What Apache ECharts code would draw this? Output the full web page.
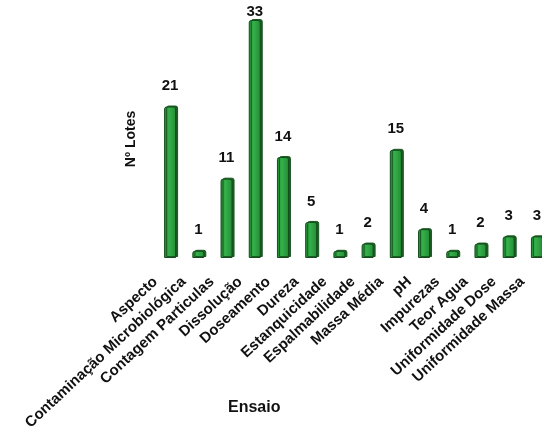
<!DOCTYPE html>
<html>
<head>
<meta charset="utf-8">
<script src="https://cdn.jsdelivr.net/npm/echarts@6/dist/echarts.min.js"></script>
<style>
  html, body { margin: 0; padding: 0; background: #ffffff; overflow: hidden; }
  /* the plot is wider than the window; the right end is cut off */
  #chart { width: 560px; height: 444px; }
</style>
</head>
<body>
<div id="chart"></div>
<script>
// Number of batches per test (ensaio)
var categories = [
  'Aspecto', 'Contaminação Microbiológica', 'Contagem Particulas', 'Dissolução',
  'Doseamento', 'Dureza', 'Estanquicidade', 'Espalmabilidade', 'Massa Média',
  'pH', 'Impurezas', 'Teor Agua', 'Uniformidade Dose', 'Uniformidade Massa'
];
var lotes = [21, 1, 11, 33, 14, 5, 1, 2, 15, 4, 1, 2, 3, 3];

var chart = echarts.init(document.getElementById('chart'), null, { renderer: 'canvas' });

var textFont = '"Liberation Sans", Arial, sans-serif';

// the tallest bar touches the top edge, so its value label sits closer
var maxLotes = Math.max.apply(null, lotes);
var barData = lotes.map(function (v) {
  return v === maxLotes ? { value: v, label: { distance: 1 } } : v;
});

chart.setOption({
  animation: false,
  backgroundColor: '#ffffff',
  grid: { left: 156, top: 20, right: 9, height: 238, containLabel: false },
  xAxis: {
    type: 'category',
    data: categories,
    axisLine: { show: false },
    axisTick: { show: false },
    axisLabel: {
      interval: 0,
      rotate: 43,
      margin: 8,
      color: '#111111',
      fontFamily: textFont,
      fontWeight: 'bold',
      fontSize: 15,
      // trailing spacer pushes each label down-left of its bar
      formatter: function (v) { return '{t|' + v + '}{s|}'; },
      rich: {
        t: {
          color: '#111111',
          fontFamily: textFont,
          fontWeight: 'bold',
          fontSize: 15
        },
        s: { width: 20 }
      }
    }
  },
  yAxis: {
    type: 'value',
    min: 0,
    max: 33,
    splitLine: { show: false },
    axisLine: { show: false },
    axisTick: { show: false },
    axisLabel: { show: false },
    name: 'Nº Lotes',
    nameLocation: 'middle',
    nameGap: 18,
    nameTextStyle: {
      color: '#111111',
      fontFamily: textFont,
      fontWeight: 'bold',
      fontSize: 14
    }
  },
  graphic: [{
    type: 'text',
    left: 228,
    top: 400,
    style: {
      text: 'Ensaio',
      fill: '#111111',
      font: 'bold 16px ' + textFont
    }
  }],
  series: [{
    type: 'bar',
    data: barData,
    barWidth: 12,
    itemStyle: {
      color: new echarts.graphic.LinearGradient(0, 0, 1, 0, [
        { offset: 0, color: '#1f8a32' },
        { offset: 0.4, color: '#35b04a' },
        { offset: 1, color: '#238c35' }
      ]),
      borderColor: '#144d1c',
      borderWidth: 1,
      borderRadius: [2, 2, 0, 0],
      shadowColor: '#1b5a22',
      shadowOffsetX: 2,
      shadowOffsetY: -1,
      shadowBlur: 0
    },
    label: {
      show: true,
      position: 'top',
      distance: 13,
      color: '#111111',
      fontFamily: textFont,
      fontWeight: 'bold',
      fontSize: 15
    }
  }]
});
</script>
</body>
</html>
